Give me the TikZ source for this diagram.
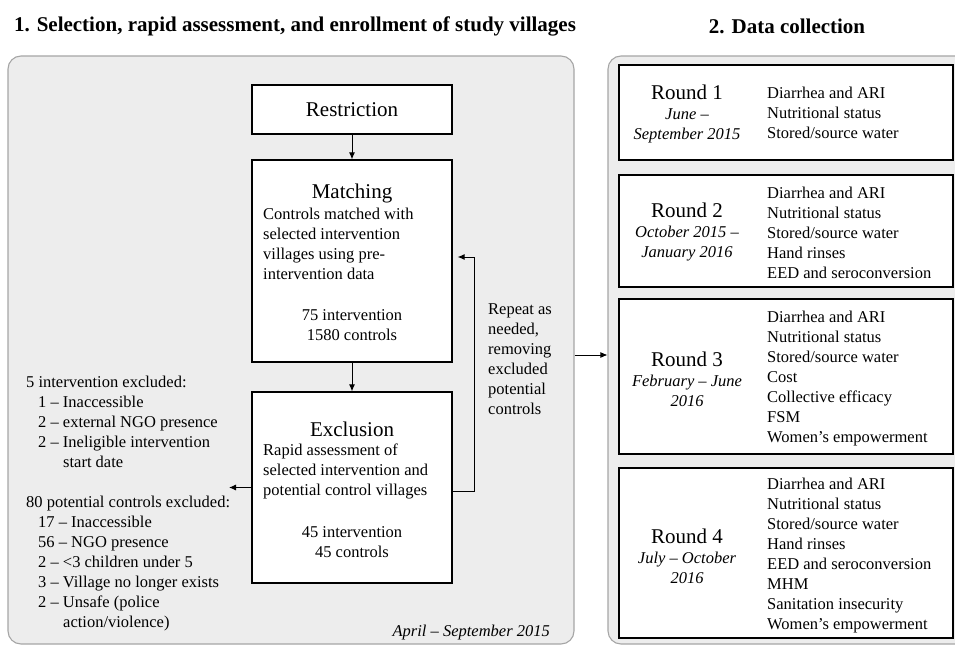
\documentclass[tikz,border=0pt]{standalone}
\usepackage{fontspec}
\setmainfont{Liberation Serif}
\usetikzlibrary{arrows.meta,positioning}

\definecolor{panelfill}{HTML}{EDEDED}
\definecolor{panelline}{HTML}{A6A6A6}
\newcommand{\headsize}{\fontsize{21}{24}\selectfont}

\tikzset{
	panel/.style = {draw=panelline, fill=panelfill, rounded corners=13pt, line width=1.1pt},
	stagebox/.style = {draw, fill=white, line width=1.3pt, minimum width=200pt},
	roundbox/.style = {draw, fill=white, line width=1.3pt, minimum width=334pt},
	arr/.style = {-{Latex[length=7pt,width=6pt]}, line width=0.9pt},
	body/.style = {font=\fontsize{16.5}{20}\selectfont, inner sep=0pt},
	head/.style = {font=\headsize, inner sep=0pt},
	paneltitle/.style = {font=\fontsize{21}{24}\selectfont\bfseries, inner sep=0pt}
}

\begin{document}
\begin{tikzpicture}[x=1pt, y=-1pt]
				\useasboundingbox (0,0) rectangle (955,647);
				%panels and titles
				\node[paneltitle] (seltitle) at (295,26) {1. Selection, rapid assessment, and enrollment of study villages};
				\node[paneltitle] (datatitle) at (787,26) {2. Data collection};
				\node[panel, minimum width=566pt, minimum height=588pt] (selpanel) at (291,350) {};
				\node[panel, minimum width=367pt, minimum height=588pt] (datapanel) at (791.5,350) {};
				%selection steps
				\node[stagebox, minimum height=49pt] (restriction) at (352,109.5) {};
				\node[head] (restrictionlbl) at (352,110) {Restriction};
				\node[stagebox, minimum height=202pt] (matching) at (352,261) {};
				\node[head] (matchinglbl) at (352,193) {Matching};
				\node[body, align=left, anchor=west] (matchingtext) at (263,244) {Controls matched with\\selected intervention\\villages using pre-\\intervention data};
				\node[body, align=center] (matchingcount) at (352,325) {75 intervention\\1580 controls};
				\node[stagebox, minimum height=191pt] (exclusion) at (352,487.5) {};
				\node[head] (exclusionlbl) at (352,429) {Exclusion};
				\node[body, align=left, anchor=west] (exclusiontext) at (263,471) {Rapid assessment of\\selected intervention and\\potential control villages};
				\node[body, align=center] (exclusioncount) at (352,542) {45 intervention\\45 controls};
				\draw[arr] (restriction) -- (matching);
				\draw[arr] (matching) -- (exclusion);
				%excluded villages
				\coordinate (exclend) at (229,487.5);
				\draw[arr] (exclusion.west) -- (exclend);
				\node[body, align=left, anchor=west] (excluded) at (26,504) {5 intervention excluded:\\
					\hspace*{12pt}1 -- Inaccessible\\
					\hspace*{12pt}2 -- external NGO presence\\
					\hspace*{12pt}2 -- Ineligible intervention\\
					\hspace*{37pt}start date\\[20pt]
					80 potential controls excluded:\\
					\hspace*{12pt}17 -- Inaccessible\\
					\hspace*{12pt}56 -- NGO presence\\
					\hspace*{12pt}2 -- <3 children under 5\\
					\hspace*{12pt}3 -- Village no longer exists\\
					\hspace*{12pt}2 -- Unsafe (police\\
					\hspace*{37pt}action/violence)};
				%repeat loop
				\draw[arr] ([yshift=-4pt]exclusion.east) -- ++(22,0) |- ([yshift=4pt, xshift=5pt]matching.east);
				\node[body, align=left, anchor=west] (repeat) at (488,359) {Repeat as\\needed,\\removing\\excluded\\potential\\controls};
				\node[body, anchor=east] (selperiod) at (550,633) {\itshape April -- September 2015};
				\draw[arr] ([yshift=-5pt]selpanel.east) -- ([yshift=-5pt]datapanel.west);
				%data collection rounds
				\node[roundbox, minimum height=95pt] (round1) at (786,112.5) {};
				\node[body, align=center] (round1lbl) at (687,114) {{\headsize Round 1}\\\itshape June --\\\itshape September 2015};
				\node[body, align=left, anchor=west] (round1items) at (767,113) {Diarrhea and ARI\\Nutritional status\\Stored/source water};
				\node[roundbox, minimum height=112pt] (round2) at (786,231) {};
				\node[body, align=center] (round2lbl) at (687,232) {{\headsize Round 2}\\\itshape October 2015 --\\\itshape January 2016};
				\node[body, align=left, anchor=west] (round2items) at (767,233) {Diarrhea and ARI\\Nutritional status\\Stored/source water\\Hand rinses\\EED and seroconversion};
				\node[roundbox, minimum height=155pt] (round3) at (786,376.5) {};
				\node[body, align=center] (round3lbl) at (687,379) {{\headsize Round 3}\\\itshape February -- June\\\itshape 2016};
				\node[body, align=left, anchor=west] (round3items) at (767,379) {Diarrhea and ARI\\Nutritional status\\Stored/source water\\Cost\\Collective efficacy\\FSM\\Women's empowerment};
				\node[roundbox, minimum height=170pt] (round4) at (786,553) {};
				\node[body, align=center] (round4lbl) at (687,556) {{\headsize Round 4}\\\itshape July -- October\\\itshape 2016};
				\node[body, align=left, anchor=west] (round4items) at (767,556) {Diarrhea and ARI\\Nutritional status\\Stored/source water\\Hand rinses\\EED and seroconversion\\MHM\\Sanitation insecurity\\Women's empowerment};
\end{tikzpicture}
\end{document}
